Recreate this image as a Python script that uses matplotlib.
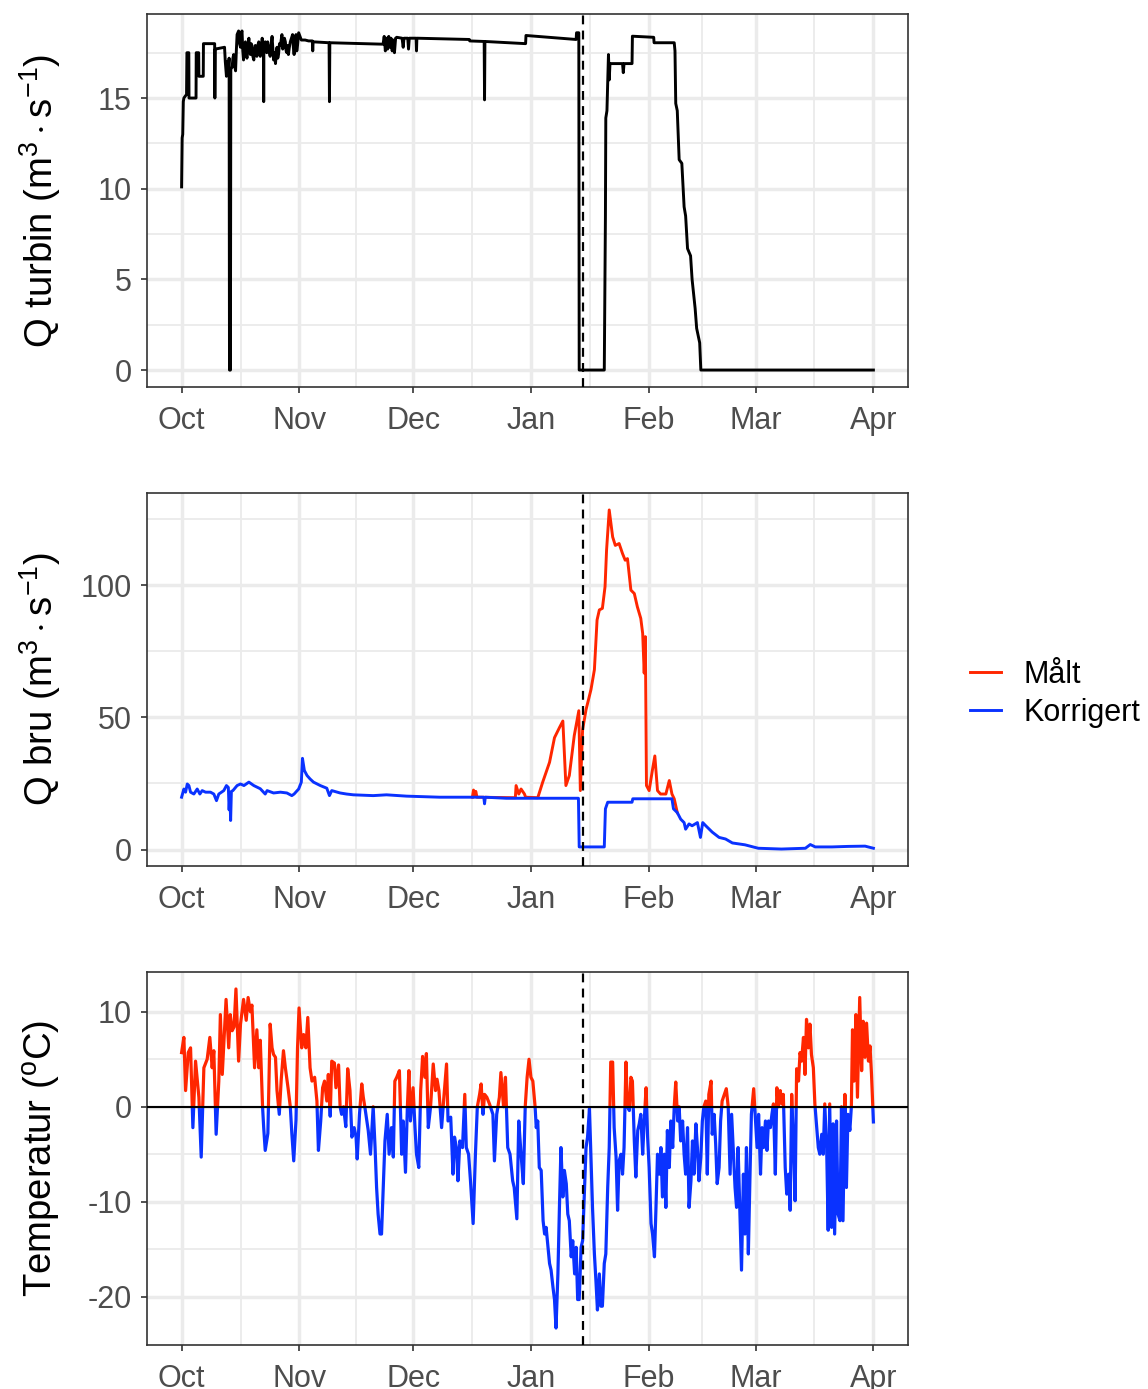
import numpy as np
import matplotlib
matplotlib.use("Agg")
import matplotlib.pyplot as plt
import matplotlib.dates as mdates
from matplotlib.patches import Rectangle
from matplotlib.lines import Line2D
from matplotlib.ticker import FixedLocator, FixedFormatter

plt.rcParams['font.family'] = ['Liberation Sans', 'DejaVu Sans']
plt.rcParams['axes.unicode_minus'] = False
plt.rcParams['mathtext.fontset'] = 'custom'
plt.rcParams['mathtext.rm'] = 'Liberation Sans'
plt.rcParams['mathtext.it'] = 'Liberation Sans:italic'
plt.rcParams['mathtext.bf'] = 'Liberation Sans:bold'

# ---------------------------------------------------------------------------
# Data (time given as days after 1 October 2010)
# ---------------------------------------------------------------------------
START = np.datetime64('2010-10-01T00:00')
month_starts = ['2010-10-01', '2010-11-01', '2010-12-01', '2011-01-01',
                '2011-02-01', '2011-03-01', '2011-04-01']
month_labels = ['Oct', 'Nov', 'Dec', 'Jan', 'Feb', 'Mar', 'Apr']
event_day = 105.7

# Turbine discharge (m3/s)
turbin_day = [0, 0.15, 0.3, 0.45, 0.6, 1.3, 1.4, 1.9, 1.95, 3.8, 3.85, 4.5, 4.55, 5.7, 5.75,
              8.7, 8.75, 8.85, 11.3, 11.5, 11.8, 12.0, 12.2, 12.5, 12.6, 12.7, 12.85, 12.95,
              13.3, 13.5, 13.7, 13.95, 14.2, 14.4, 14.6, 15.0, 15.25, 15.5, 15.7, 15.9, 16.1,
              16.3, 16.55, 16.8, 17.0, 17.2, 17.45, 17.7, 17.9, 18.1, 18.3, 18.5, 18.75, 19.0,
              19.2, 19.4, 19.6, 19.8, 20.05, 20.3, 20.5, 20.7, 20.95, 21.2, 21.55, 21.6, 21.65,
              22.0, 22.2, 22.4, 22.65, 22.9, 23.1, 23.3, 23.55, 23.8, 24.0, 24.2, 24.45, 24.7,
              24.9, 25.1, 25.3, 25.5, 25.75, 26.0, 26.2, 26.4, 26.6, 26.8, 27.05, 27.3, 27.5,
              27.7, 27.9, 28.1, 28.35, 28.6, 28.9, 29.2, 29.4, 29.6, 29.85, 30.1, 30.3, 30.5,
              30.8, 31.5, 32.5, 33.4, 34.4, 34.5, 34.6, 38.8, 38.9, 39.0, 53.0, 53.3, 53.6,
              53.9, 54.2, 54.5, 54.8, 55.1, 55.4, 55.7, 56.0, 56.3, 56.6, 58.0, 58.3, 58.5,
              59.5, 59.7, 59.9, 61.7, 61.8, 61.9, 75.7, 75.8, 79.6, 79.7, 79.8, 90.5, 90.6,
              103.8, 103.9, 104.5, 104.6, 111.2, 111.5, 111.6, 111.9, 112.3, 112.5, 112.7,
              116.0, 116.2, 116.4, 118.5, 118.6, 124.2, 124.3, 129.6, 129.8, 130.0, 130.4,
              130.9, 131.6, 132.2, 132.6, 133.1, 133.9, 134.3, 135.1, 135.5, 136.3, 136.6, 182.0]
turbin_val = [10.1, 12.8, 13.0, 14.8, 15.0, 15.2, 17.5, 17.5, 15.0, 15.0, 17.5, 17.5, 16.2, 16.2, 18.0,
              18.0, 15.0, 17.7, 17.8, 17.0, 16.2, 17.0, 16.4, 17.2, 0.0, 16.5, 0.0, 16.6,
              16.7, 17.2, 17.4, 16.8, 16.5, 17.6, 18.5, 18.7, 18.0, 17.8, 18.6, 18.7, 17.6,
              17.1, 17.9, 18.1, 17.5, 17.2, 17.8, 18.3, 17.6, 17.4, 18.0, 17.9, 17.3, 17.1,
              17.6, 17.9, 17.5, 17.3, 17.9, 18.1, 17.6, 17.3, 17.9, 18.3, 17.8, 14.8, 17.8,
              18.1, 17.6, 17.5, 18.1, 17.8, 17.5, 17.3, 17.9, 18.4, 17.7, 17.1, 17.5, 16.9,
              17.4, 17.8, 17.2, 17.4, 18.0, 17.9, 18.2, 18.5, 17.7, 17.8, 18.3, 18.1, 17.6,
              17.5, 17.9, 17.4, 17.8, 18.1, 18.3, 18.5, 17.8, 17.4, 18.2, 18.5, 17.6, 17.9,
              18.6, 18.2, 18.2, 18.15, 18.15, 17.6, 18.1, 18.05, 14.8, 18.05, 17.97, 18.4, 17.6,
              18.3, 17.7, 18.4, 17.8, 18.3, 17.6, 18.2, 17.5, 18.3, 18.35, 18.3, 17.8, 18.3,
              18.3, 17.7, 18.3, 18.3, 17.6, 18.3, 18.23, 18.15, 18.12, 14.9, 18.12, 18.0, 18.45,
              18.23, 18.6, 18.6, 0.0, 0.0, 8.5, 13.9, 14.3, 17.4, 16.0, 16.9,
              16.9, 16.4, 16.9, 16.9, 18.41, 18.35, 18.05, 18.05, 17.6, 14.7, 14.3,
              11.6, 11.4, 9.0, 8.5, 6.7, 6.3, 5.0, 3.4, 2.3, 1.5, 0.0, 0.0]

# Discharge at the bridge (m3/s): corrected series
korr_day = [0, 0.61, 1.05, 1.49, 1.92, 2.36, 3.23, 4.11, 4.81, 5.42, 6.3, 7.6, 8.48, 9.18, 9.79,
            11.1, 11.8, 12.3, 12.5, 12.7, 12.9, 13.1, 13.5, 14.6, 15.5, 16.4, 17.7, 19.0, 20.7,
            22.0, 22.5, 24.2, 26.0, 27.7, 29.0, 29.6, 30.8, 31.5, 31.8, 32.3, 33.0, 33.8, 34.7,
            36.5, 38.2, 38.9, 39.5, 41.7, 43.4, 45.2, 50.4, 53.9, 59.2, 67.9, 76.7, 79.5, 79.7,
            79.9, 85.4, 94.2, 104.4, 104.6, 111.2, 111.5, 112.1, 118.5, 118.7, 129.0, 129.4,
            130.4, 131.3, 132.2, 132.6, 133.5, 134.3, 135.7, 136.5, 137.1, 137.9, 139.6, 141.4,
            143.1, 144.9, 148.2, 151.7, 157.8, 164.1, 165.4, 166.7, 171.1, 175.4, 179.8, 182.0]
korr_val = [19.8, 22.9, 21.7, 24.8, 24.2, 21.7, 21.0, 22.9, 21.0, 22.3, 21.7, 21.7, 21.0, 18.5, 21.0,
            22.3, 24.2, 23.5, 15.0, 21.0, 11.0, 22.0, 22.3, 24.2, 24.8, 24.2, 25.5, 24.2, 23.0,
            21.0, 22.3, 21.4, 21.7, 21.4, 20.4, 21.0, 22.9, 25.5, 34.5, 29.9, 28.0, 26.7, 25.5,
            24.2, 23.2, 20.4, 22.3, 21.4, 21.0, 20.7, 20.4, 20.7, 20.2, 19.8, 19.8, 19.8, 17.3,
            19.8, 19.4, 19.4, 19.4, 1.0, 1.0, 15.4, 17.9, 17.9, 19.2, 19.2, 15.4,
            14.0, 11.5, 10.2, 7.7, 9.7, 9.0, 10.2, 4.6, 10.2, 9.0, 6.6, 4.6,
            4.0, 2.5, 1.8, 0.5, 0.2, 0.5, 1.9, 1.0, 1.0, 1.2, 1.3, 0.5]

# Discharge at the bridge (m3/s): measured series where it departs from the corrected one
maalt_day = [76.5, 76.8, 77.1, 77.4, 77.7, 87.8, 88.0, 88.7, 89.3, 90.2, 90.5, 93.7, 95.0, 96.8,
             98.1, 99.4, 100.3, 101.1, 102.0, 103.3, 104.5, 104.9, 105.5, 106.4, 107.7, 108.6,
             109.3, 109.9, 110.7, 111.4, 111.8, 112.5, 113.4, 114.1, 115.1, 116.0, 116.7, 117.3,
             118.2, 119.1, 119.9, 120.8, 121.3, 121.7, 122.0, 122.3, 123.0, 123.9, 124.5, 125.2,
             126.0, 127.4, 128.3, 129.0, 129.6, 130.4]
maalt_val = [19.8, 22.5, 20.5, 22.0, 19.8, 19.6, 24.2, 21.0, 22.9, 21.0, 19.8, 19.6, 25.5, 33.0,
             42.3, 46.1, 48.6, 24.2, 28.0, 43.1, 52.5, 22.3, 45.4, 52.9, 60.5, 68.0,
             86.8, 90.6, 91.2, 99.4, 113.2, 128.4, 118.2, 115.0, 115.7, 111.9, 109.4, 110.0,
             98.1, 96.8, 91.8, 87.4, 81.7, 66.7, 80.5, 24.2, 22.3, 30.4, 35.4, 22.3,
             21.0, 21.0, 26.1, 21.0, 19.2, 14.0]

# Air temperature (degrees C)
temp_day = [0.0, 0.6, 1.05, 1.75, 2.36, 2.97, 3.67, 4.55, 5.16, 5.86, 6.73, 7.43, 8.04, 8.48, 9.09,
            9.79, 10.2, 10.7, 11.7, 12.4, 12.8, 13.3, 13.8, 14.3, 15.0, 15.5, 16.3, 17.0, 17.5,
            18.1, 18.5, 19.2, 19.8, 20.3, 20.7, 21.3, 21.6, 22.0, 22.7, 23.3, 23.8, 24.2, 24.7,
            25.1, 25.7, 26.2, 26.8, 27.3, 28.0, 28.6, 29.0, 29.5, 30.1, 30.5, 30.9, 31.6, 32.1,
            32.7, 33.2, 33.8, 34.3, 35.0, 35.6, 36.0, 36.6, 37.1, 37.6, 38.2, 38.6, 39.1, 39.5,
            40.2, 40.6, 41.3, 41.7, 42.1, 42.6, 43.2, 43.7, 44.3, 44.8, 45.4, 45.9, 46.2, 46.8,
            47.4, 47.8, 48.2, 49.1, 49.7, 50.4, 50.9, 51.3, 51.7, 52.2, 52.6, 53.1, 53.5, 54.1,
            54.6, 55.2, 55.7, 56.1, 56.6, 57.3, 57.9, 58.3, 58.9, 59.4, 59.8, 60.2, 60.9, 61.4,
            61.8, 62.4, 62.9, 63.4, 64.0, 64.4, 64.9, 65.5, 66.2, 66.8, 67.2, 67.7, 68.4, 69.0,
            69.7, 70.1, 70.8, 71.4, 71.8, 72.3, 72.7, 73.2, 73.9, 74.5, 74.9, 75.5, 76.0, 76.7,
            77.3, 77.8, 78.4, 78.8, 79.3, 79.7, 80.3, 81.0, 81.9, 82.3, 82.9, 83.6, 84.0, 84.7,
            85.2, 85.8, 86.4, 87.1, 87.5, 88.2, 88.7, 89.3, 89.9, 90.4, 90.9, 91.4, 91.9, 92.4,
            93.0, 93.3, 93.7, 94.1, 94.6, 95.1, 95.5, 95.9, 96.4, 96.8, 97.2, 97.7, 98.1, 98.5,
            99.0, 99.4, 99.8, 100.3, 100.7, 101.2, 101.6, 102.0, 102.5, 102.9, 103.4, 103.8,
            104.2, 104.6, 105.1, 105.5, 106.0, 106.4, 106.8, 107.3, 107.7, 108.1, 108.6, 109.0,
            109.4, 109.9, 110.3, 110.7, 111.2, 111.6, 112.1, 112.5, 112.9, 113.4, 113.8, 114.3,
            114.7, 115.1, 115.6, 116.0, 116.4, 116.9, 117.3, 117.8, 118.2, 118.6, 119.1, 119.5,
            120.0, 120.4, 120.8, 121.3, 121.7, 122.2, 122.6, 123.0, 123.5, 123.9, 124.4, 124.8,
            125.2, 125.7, 126.1, 126.5, 127.0, 127.4, 127.8, 128.3, 128.7, 129.2, 129.6, 130.0,
            130.5, 130.9, 131.3, 131.8, 132.2, 132.6, 133.1, 133.5, 134.0, 134.4, 134.8, 135.3,
            135.7, 136.1, 136.6, 137.0, 137.4, 137.9, 138.3, 138.7, 139.3, 139.6, 140.1, 140.5,
            140.9, 141.4, 141.8, 142.2, 142.8, 143.3, 143.8, 144.3, 144.7, 145.1, 145.6, 146.0,
            146.4, 146.9, 147.3, 147.8, 148.2, 148.6, 149.1, 149.5, 149.9, 150.5, 151.0, 151.4,
            151.8, 152.3, 152.7, 153.1, 153.6, 154.0, 154.4, 154.9, 155.3, 155.7, 156.2, 156.6,
            157.0, 157.5, 157.9, 158.3, 158.8, 159.2, 159.7, 160.1, 160.5, 161.0, 161.4, 161.8,
            162.3, 162.7, 163.1, 163.6, 164.0, 164.4, 164.9, 165.3, 165.7, 166.2, 166.6, 167.1,
            167.5, 167.9, 168.4, 168.8, 169.2, 169.7, 170.1, 170.5, 171.0, 171.4, 171.8, 172.3,
            172.7, 173.2, 173.6, 174.0, 174.5, 174.9, 175.3, 175.8, 176.2, 176.5, 176.9, 177.4,
            177.8, 178.4, 178.9, 179.3, 179.8, 180.2, 180.7, 181.1, 181.5, 182.0]
temp_val = [5.7, 7.3, 1.7, 5.7, 6.2, -2.2, 4.8, 1.0, -5.3, 4.1, 5.0, 7.3, 4.1, 5.9, -2.9,
            2.7, 9.7, 3.4, 11.3, 6.2, 9.7, 8.0, 8.4, 12.4, 4.8, 8.7, 11.3, 9.1, 11.5,
            10.0, 10.7, 4.1, 8.1, 4.1, 7.0, 0.0, -2.2, -4.6, -2.8, 8.7, 6.2, 5.5, 5.2,
            1.7, -0.8, 2.8, 5.9, 4.1, 2.0, 0.0, -2.8, -5.7, -1.4, 6.2, 10.4, 6.2, 7.6,
            6.2, 9.4, 4.1, 2.7, 3.1, 0.6, -4.6, -1.5, 2.0, 2.7, 0.6, 3.4, -1.0, 4.8,
            4.6, 2.0, 4.4, 0.0, -0.8, 0.0, -2.1, 4.0, 1.7, -3.2, -2.2, -3.2, -5.5, -0.8,
            2.4, 1.0, 0.0, -2.5, -5.0, 0.0, -4.3, -8.5, -11.3, -13.4, -13.4, -7.8, -3.6, -0.8,
            -5.0, -2.2, -5.3, 2.7, 3.1, 3.8, -5.0, -1.5, -6.9, 0.0, 3.8, -1.5, 2.0, -2.2,
            -5.0, -6.4, 1.7, 5.3, 3.1, 5.6, -2.2, 0.0, 4.5, 1.7, 2.9, 1.7, -2.2, 1.0,
            4.5, -1.5, -1.1, -7.1, -3.2, -4.3, -7.8, -3.6, -4.3, 1.3, -4.3, -5.0, -7.8, -12.3,
            -5.0, 0.0, 1.3, 2.4, -0.8, 1.3, 1.0, 0.3, -0.8, -5.7, -0.8, 1.0, 3.6, 0.0,
            3.1, -4.3, -5.0, -7.8, -8.5, -11.8, -1.5, -5.0, -8.1, 0.0, 3.1, 5.0, 3.1, 2.7,
            0.0, -2.2, -1.5, -6.4, -6.7, -12.0, -13.4, -12.7, -14.8, -16.5, -17.2, -19.0, -20.3, -23.3,
            -17.6, -10.6, -4.3, -9.5, -6.7, -8.1, -11.3, -12.0, -15.8, -14.1, -17.6, -14.8,
            -20.3, -20.3, -14.8, -14.1, -8.5, -4.3, -3.2, -0.2, -5.3, -10.6, -15.5, -18.3,
            -21.4, -17.6, -21.0, -21.0, -16.5, -15.5, -8.5, -4.3, 4.7, 4.7, -2.2, -5.3,
            -10.9, -5.7, -5.0, -7.1, -4.3, 4.7, 0.0, -0.4, 3.1, 2.7, -3.6, -7.4,
            -2.5, -1.8, -0.8, -5.0, -1.5, 2.0, -3.2, -6.4, -12.3, -13.4, -15.8, -10.6,
            -5.0, -7.1, -4.3, -9.5, -5.0, -10.6, -2.5, -6.4, -1.5, -4.3, 0.0, 2.6,
            -1.5, 0.0, -3.6, -1.5, -5.0, -7.1, -2.2, -10.6, -7.8, -3.6, -7.1, -1.8,
            -4.3, -7.8, -5.3, -1.5, 0.0, 0.6, -7.1, 1.3, 2.7, -2.9, -0.8, -3.9,
            -8.1, -6.4, -1.5, 0.6, 1.3, 1.9, 0.0, -7.1, -0.8, -4.3, -8.5, -10.6,
            -4.3, -11.3, -17.2, -7.1, -13.4, -4.3, -15.5, -7.8, -0.8, 1.9, -1.5, -4.3,
            -0.8, -7.1, -2.2, -4.3, -1.5, -4.6, -1.5, -2.2, -0.8, 0.3, -7.1, 2.0,
            0.0, 1.7, 0.3, 1.3, -6.4, -9.2, -7.1, -10.9, 1.3, -4.3, -9.9, 4.0,
            2.7, 5.7, 4.8, 7.3, 3.4, 9.2, 6.2, 8.7, 5.5, 4.1, 0.3, -2.2,
            -4.3, -5.0, -2.9, -5.0, 0.3, -4.3, -13.0, 0.3, -12.7, -1.8, -13.4, -1.5,
            -11.3, -12.0, 0.0, -12.0, 1.3, -8.5, -0.8, -2.5, 0.0, 8.1, 2.7, 9.7,
            1.0, 11.5, 3.8, 9.0, 5.2, 8.8, 4.8, 6.4, 3.4, -1.6]

# ---------------------------------------------------------------------------
# Styling
# ---------------------------------------------------------------------------
RED = '#FF2600'
BLUE = '#0A32FF'
GRID = '#EBEBEB'
FRAME = '#333333'
TICKTXT = '#4D4D4D'
TICK_FS = 22
TITLE_FS = 27.5
LW = 2.1
LW_TEMP = 2.3


def to_num(days):
    t = START + (np.asarray(days, dtype=float) * 86400).astype('timedelta64[s]')
    return mdates.date2num(t)


major_x = mdates.date2num(np.array(month_starts, dtype='datetime64[s]'))
minor_x = (major_x[:-1] + major_x[1:]) / 2.0
x0, x1 = major_x[0], major_x[-1]
xpad = 0.05 * (x1 - x0)


def style_axis(ax, yticks, yminor, ylim):
    ax.set_xlim(x0 - xpad, x1 + xpad)
    ax.set_ylim(*ylim)
    ax.xaxis.set_major_locator(FixedLocator(major_x))
    ax.xaxis.set_major_formatter(FixedFormatter(month_labels))
    ax.xaxis.set_minor_locator(FixedLocator(minor_x))
    ax.yaxis.set_major_locator(FixedLocator(yticks))
    ax.yaxis.set_major_formatter(FixedFormatter([str(v) for v in yticks]))
    ax.yaxis.set_minor_locator(FixedLocator(yminor))
    ax.grid(which='major', color=GRID, linewidth=2.5)
    ax.grid(which='minor', color=GRID, linewidth=1.3)
    ax.set_axisbelow(True)
    ax.tick_params(which='major', length=4.5, width=1.2, color=FRAME,
                   labelsize=TICK_FS, labelcolor=TICKTXT)
    ax.tick_params(axis='x', which='major', pad=9)
    ax.tick_params(axis='y', which='major', pad=6.5)
    ax.tick_params(which='minor', length=0)
    for sp in ax.spines.values():
        sp.set_color(FRAME)
        sp.set_linewidth(1.2)
    ax.axvline(to_num([event_day])[0], color='black', lw=1.6,
               linestyle=(0, (4, 2.8)), zorder=5)


def expand(vals, frac=0.05):
    lo, hi = min(vals), max(vals)
    d = (hi - lo) * frac
    return lo - d, hi + d


fig = plt.figure(figsize=(11.48, 13.89), dpi=100)
W = 1148.0
H = 1389.0
left = 147 / W
width = 761 / W
height = 373 / H
ax1 = fig.add_axes([left, 1 - 387 / H, width, height])
ax2 = fig.add_axes([left, 1 - 866 / H, width, height])
ax3 = fig.add_axes([left, 1 - 1345 / H, width, height])

# Panel 1: turbine discharge
ax1.plot(to_num(turbin_day), turbin_val, color='black', lw=LW, zorder=3)
style_axis(ax1, [0, 5, 10, 15], [2.5, 7.5, 12.5, 17.5], expand(turbin_val))
ax1.set_ylabel(r'Q turbin (m$^{3}\cdot$s$^{-1}$)', fontsize=TITLE_FS)

# Panel 2: discharge at the bridge
ax2.plot(to_num(maalt_day), maalt_val, color=RED, lw=LW, zorder=3)
ax2.plot(to_num(korr_day), korr_val, color=BLUE, lw=LW, zorder=4)
style_axis(ax2, [0, 50, 100], [25, 75, 125], expand(korr_val + maalt_val))
ax2.set_ylabel(r'Q bru (m$^{3}\cdot$s$^{-1}$)', fontsize=TITLE_FS)

handles = [Line2D([], [], color=RED, lw=LW), Line2D([], [], color=BLUE, lw=LW)]
fig.legend(handles, ['Målt', 'Korrigert'], loc='center left',
           bbox_to_anchor=(970 / W, 1 - 694 / H), frameon=False, fontsize=TICK_FS,
           handlelength=1.0, handletextpad=0.75, labelspacing=0.25, borderpad=0,
           borderaxespad=0)

# Panel 3: air temperature, warm part in red and cold part in blue
tx = to_num(temp_day)
style_axis(ax3, [-20, -10, 0, 10], [-15, -5, 5], expand(temp_val))
warm, = ax3.plot(tx, temp_val, color=RED, lw=LW_TEMP, zorder=3)
cold, = ax3.plot(tx, temp_val, color=BLUE, lw=LW_TEMP, zorder=3)
big = 1e3
warm.set_clip_path(Rectangle((x0 - big, 0), 2 * big + (x1 - x0), big,
                             transform=ax3.transData))
cold.set_clip_path(Rectangle((x0 - big, -big), 2 * big + (x1 - x0), big,
                             transform=ax3.transData))
ax3.axhline(0, color='black', lw=1.5, zorder=4)
ax3.set_ylabel(r'Temperatur ($^{\mathrm{o}}$C)', fontsize=TITLE_FS)

for ax in (ax1, ax2, ax3):
    ax.yaxis.set_label_coords(-0.111, 0.5)

fig.savefig('out.png', dpi=100)
